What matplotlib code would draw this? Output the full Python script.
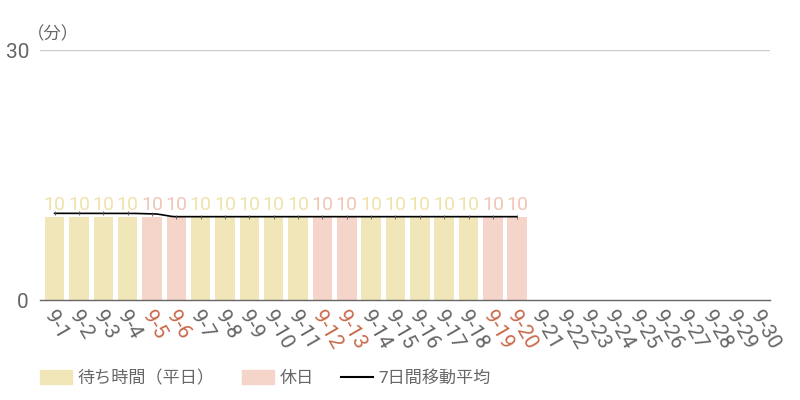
import matplotlib
matplotlib.use("Agg")
import matplotlib.pyplot as plt
import numpy as np

plt.rcParams['font.family'] = ['Roboto', 'Noto Sans CJK JP', 'DejaVu Sans']

days = [f"9-{d}" for d in range(1, 31)]
wait = [10]*20 + [None]*10
holiday = [False]*30
for d in (5, 6, 12, 13, 19, 20):
    holiday[d-1] = True
moving_avg = [10.4, 10.4, 10.4, 10.4, 10.35, 10.0, 10.0, 10.0, 10.0, 10.0,
              10.0, 10.0, 10.0, 10.0, 10.0, 10.0, 10.0, 10.0, 10.0, 10.0]

c_week = '#F0E6B8'
c_hol = '#F5D5C9'
c_week_lbl = '#EFE2AA'
c_hol_lbl = '#F0C6B6'
c_tick = '#666666'
c_tick_hol = '#C8694B'

fig = plt.figure(figsize=(8, 4), dpi=100)
ax = fig.add_axes([0.05, 0.25, 0.913, 0.625])

x = np.arange(30)
for i in range(30):
    if wait[i] is None:
        continue
    col = c_hol if holiday[i] else c_week
    ax.bar(x[i], wait[i], width=0.8, color=col, zorder=2)
    ax.text(x[i], wait[i] + 0.3, str(wait[i]), ha='center', va='bottom',
            fontsize=14, color=c_hol_lbl if holiday[i] else c_week_lbl, zorder=3)

# moving average line (smooth)
mx = np.arange(len(moving_avg))
xs = np.linspace(0, len(moving_avg)-1, 400)
ys = []
for xv in xs:
    i0 = int(np.floor(xv))
    i1 = min(i0+1, len(moving_avg)-1)
    t = xv - i0
    t2 = (1 - np.cos(t*np.pi))/2
    ys.append(moving_avg[i0]*(1-t2) + moving_avg[i1]*t2)
ax.plot(xs, ys, color='black', lw=1.2, zorder=4)
ax.plot(mx, moving_avg, ls='none', marker='|', ms=3, mew=0.6, color='#555555', zorder=4)

ax.set_xlim(-0.6, 29.4)
ax.set_ylim(0, 30)
ax.set_yticks([0, 30])
ax.set_yticklabels(['0', '30'], fontsize=15, color=c_tick)
ax.axhline(30, color='#CCCCCC', lw=1, zorder=1)
for s in ['top', 'right', 'left']:
    ax.spines[s].set_visible(False)
ax.spines['bottom'].set_color(c_tick)
ax.spines['bottom'].set_linewidth(1)
ax.tick_params(axis='y', length=0, pad=8)
ax.tick_params(axis='x', length=0)
ax.set_xticks(x)
ax.set_xticklabels([])
for i in range(30):
    ax.annotate(days[i], xy=(x[i], 0), xycoords=('data', 'axes fraction'),
                xytext=(-4, -9), textcoords='offset points',
                rotation=-60, rotation_mode='anchor', ha='left', va='center',
                fontsize=15, color=c_tick_hol if holiday[i] else c_tick)

ax.text(-1.15, 30.9, '（分）', fontsize=12.5, color=c_tick, ha='left', va='bottom',
        transform=ax.transData)

# legend
from matplotlib.patches import Patch
from matplotlib.lines import Line2D
handles = [Patch(color=c_week, label='待ち時間（平日）'),
           Patch(color=c_hol, label='休日'),
           Line2D([0], [0], color='black', lw=1.5, label='7日間移動平均')]
leg = fig.legend(handles=handles, loc='center left', bbox_to_anchor=(0.05, 0.055),
                 ncol=3, frameon=False, fontsize=12.3, handlelength=1.85,
                 handleheight=0.9, columnspacing=1.6, handletextpad=0.35,
                 borderpad=0, borderaxespad=0)
for t in leg.get_texts():
    t.set_color(c_tick)

fig.savefig('out.png', dpi=100)
